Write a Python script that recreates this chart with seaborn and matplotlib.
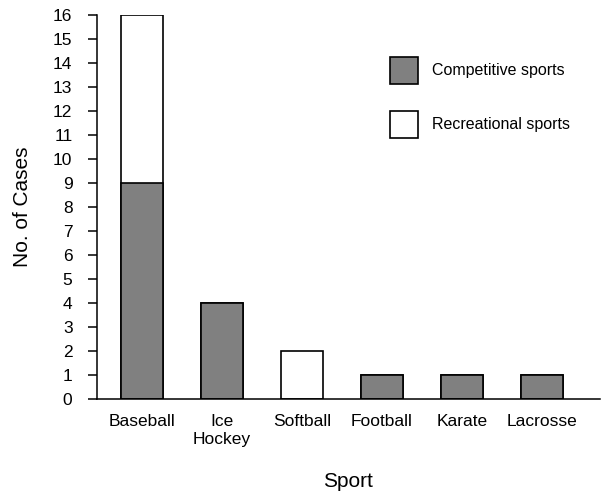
import pandas as pd
import matplotlib
matplotlib.use("Agg")
import matplotlib.pyplot as plt
import seaborn as sns
from matplotlib.patches import Patch

# Data
sports = ["Baseball", "Ice\nHockey", "Softball", "Football", "Karate", "Lacrosse"]
competitive = [9, 4, 0, 1, 1, 1]
recreational = [7, 0, 2, 0, 0, 0]

df = pd.DataFrame({"sport": sports, "competitive": competitive,
                   "recreational": recreational})
df["total"] = df["competitive"] + df["recreational"]

sns.set_style("ticks")
plt.rcParams["font.family"] = ["Liberation Sans", "DejaVu Sans"]
plt.rcParams["text.color"] = "black"
plt.rcParams["axes.labelcolor"] = "black"
plt.rcParams["xtick.color"] = "black"
plt.rcParams["ytick.color"] = "black"

fig = plt.figure(figsize=(6.05, 4.92), dpi=100)
ax = fig.add_axes([0.160, 0.189, 0.832, 0.781])

# stacked bars: draw totals (white) first, then competitive (grey) over them
sns.barplot(data=df, x="sport", y="total", color="white", edgecolor="black",
            linewidth=1.2, width=0.52, ax=ax, saturation=1)
sns.barplot(data=df, x="sport", y="competitive", color="#808080", edgecolor="black",
            linewidth=1.2, width=0.52, ax=ax, saturation=1)

# hide zero-height bars
for p in ax.patches:
    if p.get_height() == 0:
        p.set_visible(False)

ax.set_xlim(-0.5625, 5.725)
ax.set_ylim(0, 16)
ax.set_yticks(range(0, 17))
ax.tick_params(axis="y", labelsize=12.5, length=6.5, width=1.1, pad=11)
ax.tick_params(axis="x", labelsize=12.5, length=0, pad=11)
sns.despine(ax=ax)
for s in ["left", "bottom"]:
    ax.spines[s].set_linewidth(1.1)
    ax.spines[s].set_color("black")

ax.set_xlabel("Sport", fontsize=15, labelpad=18)
ax.set_ylabel("No. of Cases", fontsize=15, labelpad=15)

handles = [Patch(facecolor="#808080", edgecolor="black", linewidth=1.2,
                 label="Competitive sports"),
           Patch(facecolor="white", edgecolor="black", linewidth=1.2,
                 label="Recreational sports")]
ax.legend(handles=handles, frameon=False, fontsize=11.5, handlelength=1.75,
          handleheight=2.2, labelspacing=1.69, handletextpad=0.875,
          borderpad=0, borderaxespad=0,
          loc="upper left", bbox_to_anchor=(390 / 605, 1 - 57 / 492),
          bbox_transform=fig.transFigure)

fig.savefig("out.png", dpi=100)
